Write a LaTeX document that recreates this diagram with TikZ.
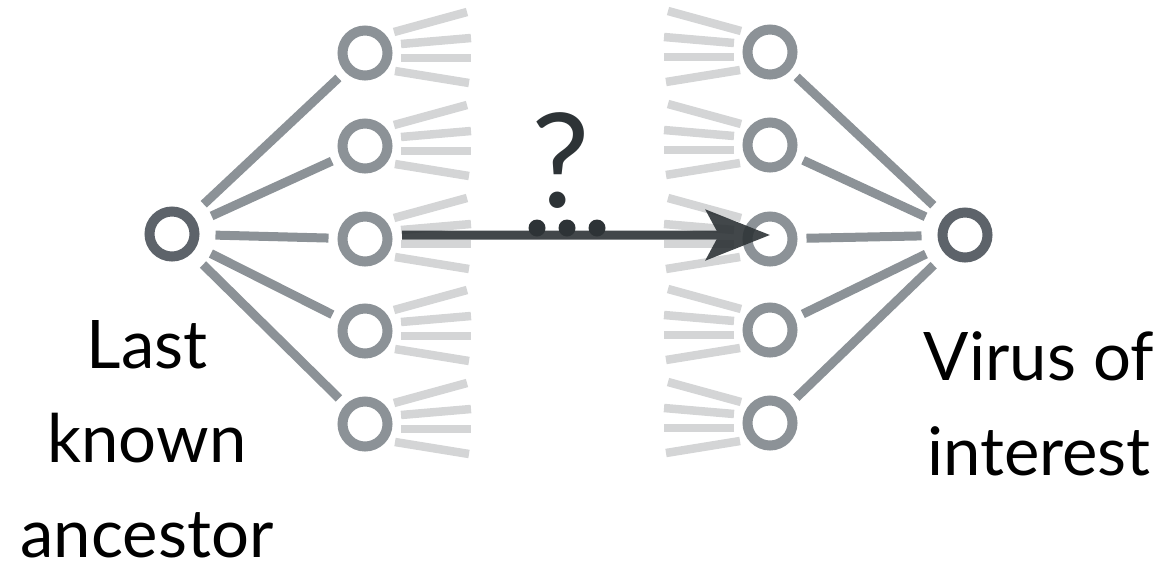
\documentclass[tikz,border=0pt]{standalone}
\usepackage{fontspec}
\setmainfont{Lato}
\usepackage{tikz}
\usetikzlibrary{arrows.meta}
\definecolor{rootgray}{RGB}{93,99,106}
\definecolor{midgray}{RGB}{140,146,151}
\definecolor{fangray}{RGB}{212,213,214}
\definecolor{arrowdark}{RGB}{45,51,54}
\tikzstyle{root}=[circle,draw=rootgray,line width=10pt,minimum size=45pt,inner sep=0pt]
\tikzstyle{leaf}=[circle,draw=midgray,line width=10pt,minimum size=45pt,inner sep=0pt]
\tikzstyle{link}=[draw,midgray,line width=9pt,shorten <=16pt,shorten >=9pt]
\tikzstyle{fan}=[draw,fangray,line width=8.5pt]
\tikzstyle{jump}=[draw,arrowdark,line width=9pt,-{Stealth[length=64pt,width=50pt,inset=13pt]}]
\tikzstyle{blob}=[circle,fill=arrowdark,minimum size=17pt,inner sep=0pt]
\tikzstyle{txt}=[align=center,font=\fontsize{67}{94.5}\selectfont,inner sep=0pt]
% four faded branches next to a leaf
\newcommand{\fanL}[1]{%
  \path[fan] ([shift={(29,-21)}]#1.center) -- ([shift={(102,-41)}]#1.center);
  \path[fan] ([shift={(36,-9)}]#1.center) -- ([shift={(106,-15)}]#1.center);
  \path[fan] ([shift={(36,5)}]#1.center) -- ([shift={(106,5)}]#1.center);
  \path[fan] ([shift={(30,18)}]#1.center) -- ([shift={(104,30)}]#1.center);}
\newcommand{\fanR}[1]{%
  \path[fan] ([shift={(-29,-21)}]#1.center) -- ([shift={(-102,-41)}]#1.center);
  \path[fan] ([shift={(-36,-9)}]#1.center) -- ([shift={(-106,-15)}]#1.center);
  \path[fan] ([shift={(-36,5)}]#1.center) -- ([shift={(-106,5)}]#1.center);
  \path[fan] ([shift={(-30,18)}]#1.center) -- ([shift={(-104,30)}]#1.center);}
\begin{document}
\begin{tikzpicture}[x=1pt,y=-1pt]
\useasboundingbox (0,0) rectangle (1165,568);

	\node[root] (anc) at (172,234) {};
	\node[root] (voi) at (965,235) {};

	\node[leaf] (l1) at (365,53) {};
	\node[leaf] (l2) at (365,146) {};
	\node[leaf] (l3) at (365,239) {};
	\node[leaf] (l4) at (365,331) {};
	\node[leaf] (l5) at (365,424) {};

	\node[leaf] (r1) at (770,52) {};
	\node[leaf] (r2) at (770,145) {};
	\node[leaf] (r3) at (770,239) {};
	\node[leaf] (r4) at (770,330) {};
	\node[leaf] (r5) at (770,423) {};

	\node[txt,anchor=base] (anct) at (147,557) {Last\\known\\ancestor};
	\node[txt,anchor=base] (voit) at (1039,475) {Virus of\\interest};

	\path[link] (anc) -- (l1);
	\path[link] (anc) -- (l2);
	\path[link] (anc) -- (l3);
	\path[link] (anc) -- (l4);
	\path[link] (anc) -- (l5);

	\path[link] (voi) -- (r1);
	\path[link] (voi) -- (r2);
	\path[link] (voi) -- (r3);
	\path[link] (voi) -- (r4);
	\path[link] (voi) -- (r5);

% % % faded branches
	\fanL{l1} \fanL{l2} \fanL{l3} \fanL{l4} \fanL{l5}
	\fanR{r1} \fanR{r2} \fanR{r3} \fanR{r4} \fanR{r5}

% % % unknown path
	\begin{scope}[opacity=0.9,transparency group]
	\path[jump] ([shift={(37,-4)}]l3.center) -- ([shift={(0,-4)}]r3.center);
	\end{scope}

	\node[blob] (d1) at (537,228) {};
	\node[blob] (d2) at (567,228) {};
	\node[blob] (d3) at (597,228) {};
	\node[font=\fontsize{131}{131}\selectfont,text=arrowdark,anchor=base,inner sep=0pt] (qm) at (561,207) {?};

\end{tikzpicture}
\end{document}
